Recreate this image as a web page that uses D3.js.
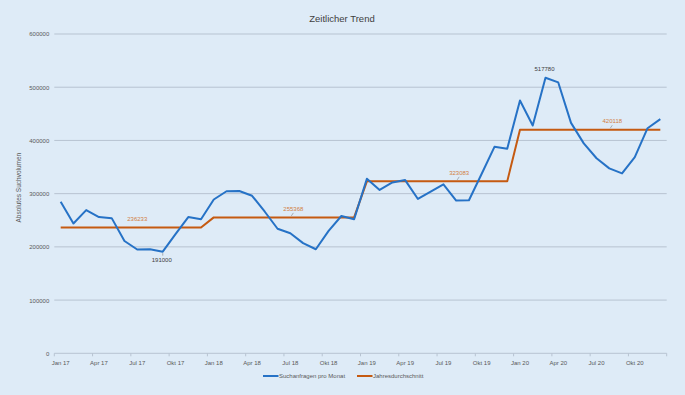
<!DOCTYPE html>
<html>
<head>
<meta charset="utf-8">
<script src="https://cdn.jsdelivr.net/npm/d3@7"></script>
<style>
  body { margin: 0; background: #deebf7; }
  svg { display: block; font-family: "Liberation Sans", Arial, sans-serif; }
</style>
</head>
<body>
<svg id="chart" width="685" height="395"></svg>
<script>
const monthNames = ["Jan", "Feb", "Mrz", "Apr", "Mai", "Jun", "Jul", "Aug", "Sep", "Okt", "Nov", "Dez"];
const years = ["17", "18", "19", "20"];
const months = years.flatMap((y) => monthNames.map((m) => `${m} ${y}`));

const searchesPerMonth = [
  285000, 244000, 269000, 256000, 254000, 211000, 195000, 195500, 191000, 224000, 256000, 252000,
  289000, 304500, 305000, 296000, 266000, 234000, 225500, 207000, 195500, 230000, 258000, 252000,
  328000, 307000, 321000, 325500, 290000, 304000, 317500, 287000, 287500, 337500, 388000, 384500,
  475000, 428000, 517780, 509000, 433000, 394500, 366500, 347500, 338000, 368500, 423000, 440000,
];
const yearlyAverage = [236233, 255368, 323083, 420118];
const yTicks = [0, 100000, 200000, 300000, 400000, 500000, 600000];

// which months carry a data label (index into months)
const avgLabelMonths = [6, 18, 31, 43];
const peakLabels = [
  { index: 38, below: false },
  { index: 8, below: true },
];

const averagePerMonth = months.map((_, i) => yearlyAverage[Math.floor(i / 12)]);

const width = 685;
const height = 395;
const margin = { top: 34, right: 18.3, bottom: 41.7, left: 54.3 };

const svg = d3.select("#chart");
svg.append("rect").attr("width", width).attr("height", height).attr("fill", "#deebf7");

const x = d3
  .scaleBand()
  .domain(months)
  .range([margin.left, width - margin.right])
  .padding(0);
const cx = (m) => x(m) + x.bandwidth() / 2;

const y = d3
  .scaleLinear()
  .domain([0, 600000])
  .range([height - margin.bottom, margin.top]);

const textColor = "#595959";
const blue = "#2672c6";
const orange = "#c55a11";
const orangeText = "#d2803f";

// title
svg
  .append("text")
  .attr("x", 342)
  .attr("y", 22)
  .attr("text-anchor", "middle")
  .attr("font-size", 9.5)
  .attr("fill", "#404040")
  .text("Zeitlicher Trend");

// gridlines
svg
  .append("g")
  .selectAll("line")
  .data(yTicks.filter((t) => t > 0))
  .join("line")
  .attr("x1", margin.left)
  .attr("x2", width - margin.right)
  .attr("y1", (d) => y(d))
  .attr("y2", (d) => y(d))
  .attr("stroke", "#b7c3d1")
  .attr("stroke-width", 1);

// y axis labels
const yAxis = d3.axisLeft(y).tickValues(yTicks).tickSize(0).tickPadding(5).tickFormat(d3.format("d"));
const yG = svg.append("g").attr("transform", `translate(${margin.left},0)`).call(yAxis);
yG.select(".domain").remove();
yG.selectAll("text").attr("font-size", 6).attr("fill", textColor).attr("font-family", "inherit");

// x axis
const tickMonths = months.filter((_, i) => i % 3 === 0);
const xAxisG = svg.append("g").attr("transform", `translate(0,${y(0)})`);
xAxisG
  .append("line")
  .attr("x1", margin.left)
  .attr("x2", width - margin.right)
  .attr("stroke", "#b7c3d1")
  .attr("stroke-width", 1);
xAxisG
  .selectAll("line.tick")
  .data([...tickMonths.map((m) => x(m)), width - margin.right])
  .join("line")
  .attr("class", "tick")
  .attr("x1", (d) => d)
  .attr("x2", (d) => d)
  .attr("y1", 0)
  .attr("y2", 3)
  .attr("stroke", "#b7c3d1");
xAxisG
  .selectAll("text")
  .data(tickMonths)
  .join("text")
  .attr("x", (d) => cx(d))
  .attr("y", 11.5)
  .attr("text-anchor", "middle")
  .attr("font-size", 6)
  .attr("fill", textColor)
  .text((d) => d);

// y axis title
svg
  .append("text")
  .attr("transform", `translate(21,${(margin.top + y(0)) / 2 - 6}) rotate(-90)`)
  .attr("text-anchor", "middle")
  .attr("font-size", 6.5)
  .attr("fill", textColor)
  .text("Absolutes Suchvolumen");

// lines
const line = d3
  .line()
  .x((d, i) => cx(months[i]))
  .y((d) => y(d));

svg
  .append("path")
  .datum(averagePerMonth)
  .attr("fill", "none")
  .attr("stroke", orange)
  .attr("stroke-width", 2)
  .attr("stroke-linejoin", "round")
  .attr("d", line);

svg
  .append("path")
  .datum(searchesPerMonth)
  .attr("fill", "none")
  .attr("stroke", blue)
  .attr("stroke-width", 2)
  .attr("stroke-linejoin", "round")
  .attr("d", line);

// average labels
avgLabelMonths.forEach((idx, k) => {
  const px = cx(months[idx]);
  const py = y(averagePerMonth[idx]);
  const dx = k === 0 ? 0 : 3;
  svg
    .append("text")
    .attr("x", px + dx)
    .attr("y", py - 6.5)
    .attr("text-anchor", "middle")
    .attr("font-size", 6)
    .attr("fill", orangeText)
    .text(averagePerMonth[idx]);
  if (k > 0) {
    svg
      .append("line")
      .attr("x1", px + 1)
      .attr("y1", py - 1.5)
      .attr("x2", px + dx)
      .attr("y2", py - 4.5)
      .attr("stroke", "#7f7f7f")
      .attr("stroke-width", 0.6);
  }
});

// peak / low labels
peakLabels.forEach((p) => {
  const px = cx(months[p.index]);
  const py = y(searchesPerMonth[p.index]);
  svg
    .append("text")
    .attr("x", px - 1)
    .attr("y", p.below ? py + 10.5 : py - 6.5)
    .attr("text-anchor", "middle")
    .attr("font-size", 6)
    .attr("fill", "#404040")
    .text(searchesPerMonth[p.index]);
  if (p.below) {
    svg
      .append("line")
      .attr("x1", px)
      .attr("x2", px)
      .attr("y1", py + 1.5)
      .attr("y2", py + 4)
      .attr("stroke", "#7f7f7f")
      .attr("stroke-width", 0.6);
  }
});

// legend
const legend = [
  { label: "Suchanfragen pro Monat", color: blue, x: 263 },
  { label: "Jahresdurchschnitt", color: orange, x: 357 },
];
const legendG = svg.append("g").attr("transform", "translate(0,376)");
legend.forEach((item) => {
  legendG
    .append("line")
    .attr("x1", item.x)
    .attr("x2", item.x + 15.5)
    .attr("stroke", item.color)
    .attr("stroke-width", 2);
  legendG
    .append("text")
    .attr("x", item.x + 16)
    .attr("y", 2)
    .attr("font-size", 6)
    .attr("fill", textColor)
    .text(item.label);
});
</script>
</body>
</html>
